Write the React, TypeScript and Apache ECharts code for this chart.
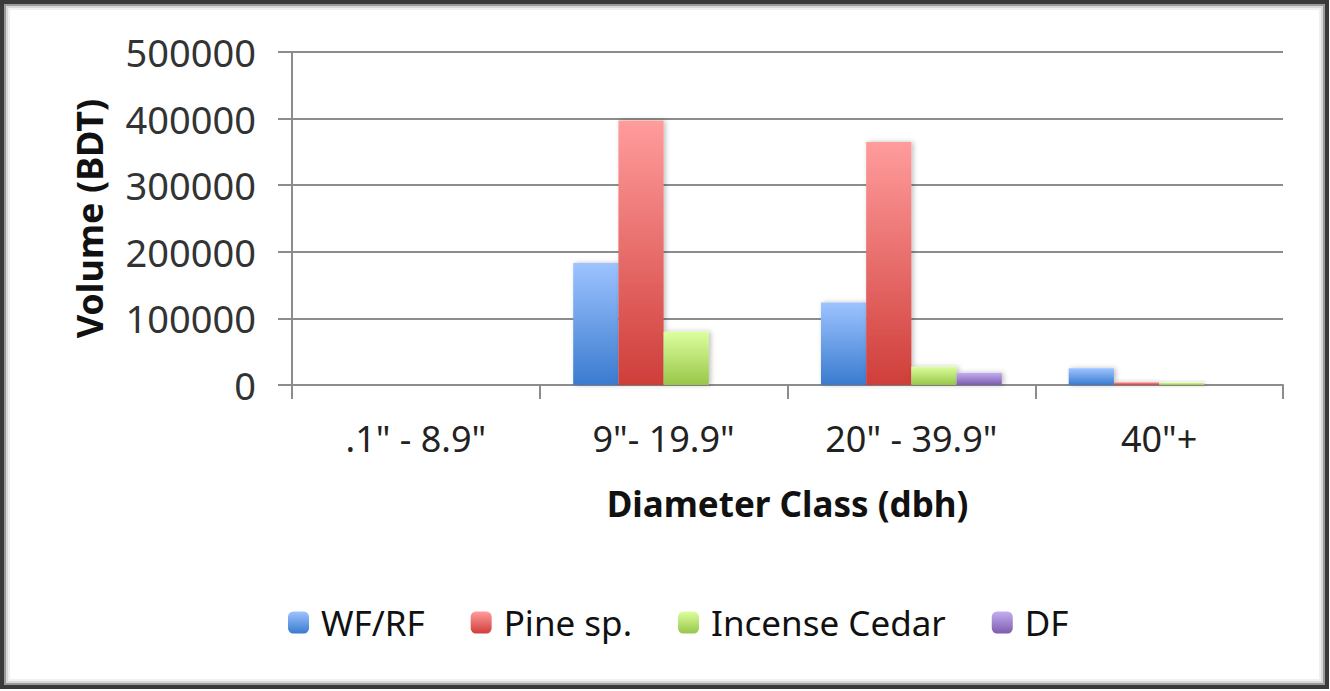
import React, { useEffect, useRef } from "react";
import * as echarts from "echarts";

const categories = ['.1" - 8.9"', '9"- 19.9"', '20" - 39.9"', '40"+'];
const seriesNames = ["WF/RF", "Pine sp.", "Incense Cedar", "DF"];
const wfrf = [0, 183000, 124000, 25000];
const pine = [0, 397000, 365000, 4000];
const cedar = [0, 80000, 27500, 3500];
const df = [0, 0, 18500, 0];
const yTicks = [0, 100000, 200000, 300000, 400000, 500000];

const gradients: [string, string][] = [
  ["#9dc3ff", "#3a7bcf"],
  ["#ff9c9c", "#cf3e3a"],
  ["#dcff9e", "#98c649"],
  ["#c3aef0", "#7c5cae"],
];

export default function App() {
  const ref = useRef<HTMLDivElement>(null);
  useEffect(() => {
    if (!ref.current) return;
    const chart = echarts.init(ref.current, undefined, { renderer: "svg" });
    const data = [wfrf, pine, cedar, df];
    const font = "'Noto Sans', 'Open Sans', sans-serif";
    chart.setOption({
      animation: false,
      backgroundColor: "#ffffff",
      textStyle: { fontFamily: font },
      graphic: [
        { type: "rect", shape: { x: 2, y: 2, width: 1325, height: 685 }, style: { fill: "none", stroke: "#3a3a3a", lineWidth: 4 }, silent: true },
        { type: "rect", shape: { x: 5, y: 5, width: 1319, height: 679 }, style: { fill: "none", stroke: "#9a9a9a", lineWidth: 2 }, silent: true },
        { type: "rect", shape: { x: 7, y: 7, width: 1315, height: 675 }, style: { fill: "none", stroke: "#d8d8d8", lineWidth: 2 }, silent: true },
        { type: "rect", shape: { x: 9, y: 9, width: 1311, height: 671 }, style: { fill: "none", stroke: "#f0f0f0", lineWidth: 2 }, silent: true },
      ],
      legend: {
        data: seriesNames,
        left: 283,
        top: 600,
        itemWidth: 21,
        itemHeight: 22,
        itemGap: 46,
        textStyle: { fontSize: 35, color: "#111", fontFamily: font, padding: [0, 0, 0, 7] },
      },
      grid: { left: 292, right: 47, top: 52, bottom: 306 },
      xAxis: {
        type: "category",
        data: categories,
        name: "Diameter Class (dbh)",
        nameLocation: "middle",
        nameGap: 101,
        nameTextStyle: { fontSize: 35, fontWeight: "bold", color: "#111" },
        axisLine: { lineStyle: { color: "#8c8c8c", width: 2 } },
        axisTick: { show: true, length: 14, lineStyle: { color: "#8c8c8c", width: 2 } },
        axisLabel: { fontSize: 36, color: "#222", margin: 35 },
      },
      yAxis: {
        type: "value",
        min: 0,
        max: 500000,
        interval: 100000,
        name: "Volume (BDT)",
        nameLocation: "middle",
        nameGap: 185,
        nameRotate: 90,
        nameTextStyle: { fontSize: 36, fontWeight: "bold", color: "#111" },
        axisLine: { show: true, lineStyle: { color: "#8c8c8c", width: 2 } },
        axisTick: { show: true, length: 14, lineStyle: { color: "#8c8c8c", width: 2 } },
        axisLabel: {
          fontSize: 38,
          color: "#333",
          margin: 36,
          formatter: (v: number) => (yTicks.includes(v) ? String(v) : ""),
        },
        splitLine: { lineStyle: { color: "#8c8c8c", width: 2 } },
      },
      series: seriesNames.map((name, i) => ({
        name,
        type: "bar",
        data: data[i],
        barGap: "0%",
        barCategoryGap: "27%",
        itemStyle: {
          color: new echarts.graphic.LinearGradient(0, 0, 0, 1, [
            { offset: 0, color: gradients[i][0] },
            { offset: 1, color: gradients[i][1] },
          ]),
          shadowBlur: 5,
          shadowColor: "rgba(0,0,0,0.25)",
          shadowOffsetX: 2,
        },
      })),
    });
    return () => chart.dispose();
  }, []);
  return (
    <div
      ref={ref}
      style={{ position: "absolute", left: 0, top: 0, width: 1330, height: 691 }}
    />
  );
}
